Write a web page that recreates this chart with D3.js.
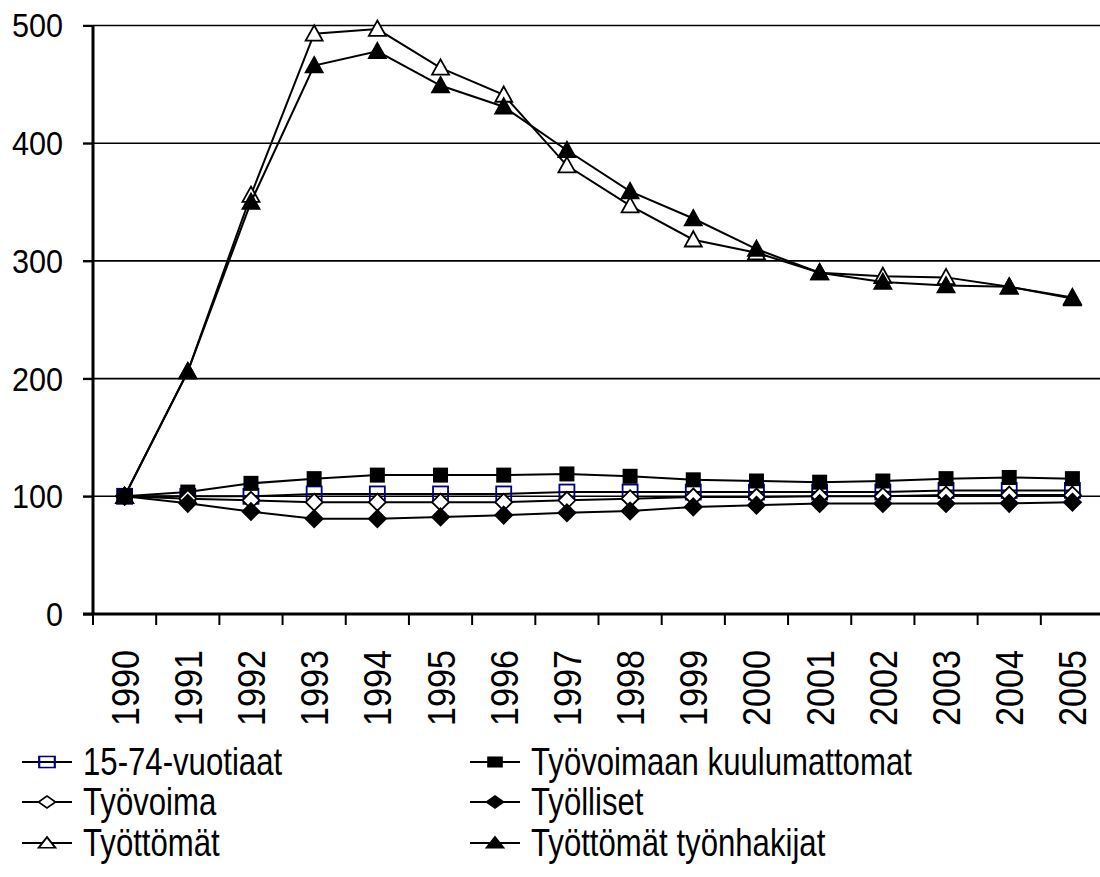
<!DOCTYPE html>
<html>
<head>
<meta charset="utf-8">
<script src="https://cdn.jsdelivr.net/npm/d3@7"></script>
<style>
  body { margin: 0; background: #fff; }
  svg { display: block; }
  text { font-family: "Liberation Sans", Arial, sans-serif; fill: #000; }
</style>
</head>
<body>
<script>
// data (index, 1990 = 100)
const years = ["1990","1991","1992","1993","1994","1995","1996","1997","1998","1999","2000","2001","2002","2003","2004","2005"]
const yTicks = [0, 100, 200, 300, 400, 500]

const vuotiaat = [100,100,100,102,102,102,102,103.6,103.6,103.6,103.6,103.6,103.6,105,105,105]
const kuulumattomat = [100,103.6,111,115,118,118,118,119,117,114,113,112,113,115,116,115]
const tyovoima = [100,98,96.6,95,95,95,95,96.6,98,99.4,99.4,100,100,101,101,101]
const tyolliset = [100,94,87,81,81,82.5,84,86,87.5,91,92.4,93.8,93.8,93.8,94,95]
const tyottomat = [100,206,356,493,497,464,441,381,347,318,307,290,287,286,278,269]
const tyonhakijat = [100,206,350,466,478,449,431,394,359,336,310,290,282,279,278,268]

const seriesNames = ["15-74-vuotiaat","Työvoimaan kuulumattomat","Työvoima","Työlliset","Työttömät","Työttömät työnhakijat"]
const seriesValues = [vuotiaat, kuulumattomat, tyovoima, tyolliset, tyottomat, tyonhakijat]
const markers = ["sqOpen","sqFill","diaOpen","diaFill","triOpen","triFill"]

width = 1100
height = 877

svg = d3.select("body")
    .append("svg")
    .attr("width", width)
    .attr("height", height)

let x = d3.scaleBand().domain(years).range([93, 1104])
let y = d3.scaleLinear().domain([0, 500]).range([614, 25.5])

// gridlines
svg.selectAll("line.grid")
    .data(yTicks.filter(d => d > 0))
    .enter()
    .append("line")
    .attr("class", "grid")
    .attr("x1", 83)
    .attr("x2", width)
    .attr("y1", d => y(d))
    .attr("y2", d => y(d))
    .attr("stroke", "#000")
    .attr("stroke-width", 1.6)

// y axis: ticks from d3, labels drawn by hand so they can be narrowed
let yAxis = d3.axisLeft(y).tickValues(yTicks).tickSize(10).tickFormat("")
let gy = svg.append("g")
    .attr("transform", "translate(93,0)")
    .call(yAxis)
gy.select(".domain").attr("stroke-width", 3).attr("d", "M0," + y(0) + "V" + y(500))
gy.selectAll(".tick line").attr("stroke-width", 2)

svg.selectAll("text.ylab")
    .data(yTicks)
    .enter()
    .append("text")
    .attr("class", "ylab")
    .attr("transform", d => "translate(63," + y(d) + ") scale(0.9,1)")
    .attr("dy", "0.35em")
    .attr("text-anchor", "end")
    .style("font-size", "34px")
    .text(d => d)

// x axis line and ticks between categories
svg.append("line")
    .attr("x1", 83).attr("x2", width)
    .attr("y1", y(0)).attr("y2", y(0))
    .attr("stroke", "#000")
    .attr("stroke-width", 3)

svg.selectAll("line.xtick")
    .data(years)
    .enter()
    .append("line")
    .attr("class", "xtick")
    .attr("x1", d => x(d))
    .attr("x2", d => x(d))
    .attr("y1", y(0))
    .attr("y2", y(0) + 11)
    .attr("stroke", "#000")
    .attr("stroke-width", 2)

svg.selectAll("text.year")
    .data(years)
    .enter()
    .append("text")
    .attr("class", "year")
    .attr("transform", d => "translate(" + (x(d) + x.bandwidth() / 2 + 14) + ",650) rotate(-90) scale(0.9,1)")
    .attr("text-anchor", "end")
    .style("font-size", "38px")
    .text(d => d)

// marker drawing
function drawMarker(g, type, cx, cy, s) {
    let h = s / 2
    if (type == "sqOpen") {
        g.append("rect").attr("x", cx - h).attr("y", cy - h).attr("width", s).attr("height", s)
            .attr("fill", "none").attr("stroke", "#000080").attr("stroke-width", 1.8)
    } else if (type == "sqFill") {
        g.append("rect").attr("x", cx - h).attr("y", cy - h).attr("width", s).attr("height", s)
            .attr("fill", "#000")
    } else if (type == "diaOpen" || type == "diaFill") {
        g.append("path")
            .attr("d", "M" + cx + "," + (cy - h) + "L" + (cx + h) + "," + cy + "L" + cx + "," + (cy + h) + "L" + (cx - h) + "," + cy + "Z")
            .attr("fill", type == "diaFill" ? "#000" : "#fff")
            .attr("stroke", "#000").attr("stroke-width", 1.8)
    } else {
        g.append("path")
            .attr("d", "M" + cx + "," + (cy - h) + "L" + (cx + h) + "," + (cy + h * 0.8) + "L" + (cx - h) + "," + (cy + h * 0.8) + "Z")
            .attr("fill", type == "triFill" ? "#000" : "#fff")
            .attr("stroke", "#000").attr("stroke-width", 1.8)
    }
}

let line = d3.line()
    .x((d, i) => x(years[i]) + x.bandwidth() / 2)
    .y(d => y(d))

seriesValues.forEach(function(vals, k) {
    let g = svg.append("g")
    g.append("path")
        .attr("d", line(vals))
        .attr("fill", "none")
        .attr("stroke", "#000")
        .attr("stroke-width", 2)
    vals.forEach(function(v, i) {
        let s = markers[k].startsWith("sq") ? 15 : 17
        drawMarker(g, markers[k], x(years[i]) + x.bandwidth() / 2, y(v), s)
    })
})

// legend
let legX = [22, 470]
let legY = [762, 802, 843]
seriesNames.forEach(function(name, k) {
    let lx = legX[k % 2]
    let ly = legY[Math.floor(k / 2)]
    let g = svg.append("g")
    g.append("line")
        .attr("x1", lx).attr("x2", lx + 50)
        .attr("y1", ly).attr("y2", ly)
        .attr("stroke", "#000").attr("stroke-width", 1.8)
    let mg = g.append("g")
        .attr("transform", "translate(" + (lx + 25) + "," + ly + ") scale(1.2,0.85)")
    let s = markers[k].startsWith("sq") ? 13 : 14
    drawMarker(mg, markers[k], 0, 0, s)
    g.append("text")
        .attr("transform", "translate(" + (lx + 61) + "," + (ly + 13) + ") scale(0.82,1)")
        .style("font-size", "38px")
        .text(name)
})
</script>
</body>
</html>
